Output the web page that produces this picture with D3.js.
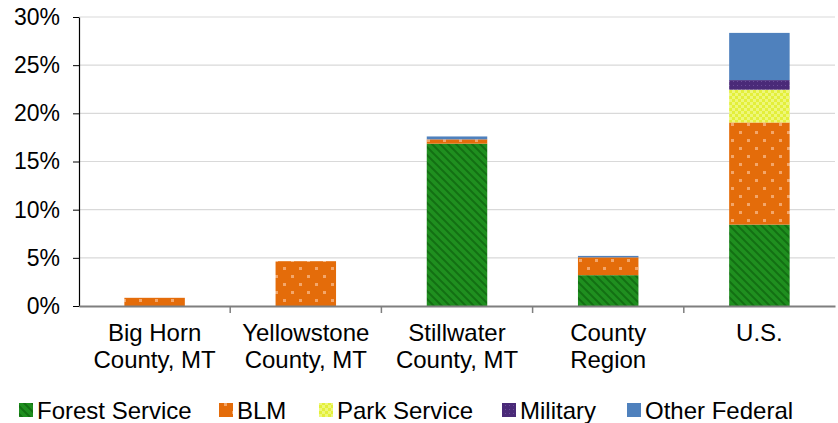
<!DOCTYPE html>
<html><head><meta charset="utf-8">
<script src="https://cdn.jsdelivr.net/npm/d3@7"></script>
<style>body{margin:0;background:#fff;font-family:"Liberation Sans",Arial,sans-serif;}</style>
</head><body><svg id="c" width="838" height="423"></svg>
<script>
const categories = ["Big Horn\nCounty, MT","Yellowstone\nCounty, MT","Stillwater\nCounty, MT","County\nRegion","U.S."];
const seriesNames = ["Forest Service","BLM","Park Service","Military","Other Federal"];
const forestService = [0, 0, 16.85, 3.2, 8.45];
const blm = [0.85, 4.65, 0.45, 1.85, 10.6];
const parkService = [0, 0, 0, 0, 3.4];
const military = [0, 0, 0, 0, 1.0];
const otherFederal = [0, 0, 0.3, 0.15, 4.9];
const yTicks = [0,5,10,15,20,25,30];

const FONT = "Liberation Sans, Arial, sans-serif";
const svg = d3.select("#c");
const defs = svg.append("defs");
let p = defs.append("pattern").attr("id","pForest").attr("patternUnits","userSpaceOnUse").attr("width",8).attr("height",8);
p.append("rect").attr("width",8).attr("height",8).attr("fill","#1f8f1f");
p.append("path").attr("d","M-2,-2 L10,10 M-2,6 L2,10 M6,-2 L10,2").attr("stroke","#137013").attr("stroke-width",2);
p = defs.append("pattern").attr("id","pBLM").attr("patternUnits","userSpaceOnUse").attr("width",16).attr("height",16);
p.append("rect").attr("width",16).attr("height",16).attr("fill","#e46c0a");
p.append("rect").attr("x",3).attr("y",3).attr("width",3).attr("height",3).attr("fill","#f3a66a");
p.append("rect").attr("x",11).attr("y",11).attr("width",3).attr("height",3).attr("fill","#f3a66a");
p = defs.append("pattern").attr("id","pPark").attr("patternUnits","userSpaceOnUse").attr("width",6).attr("height",6);
p.append("rect").attr("width",6).attr("height",6).attr("fill","#e3ef3a");
p.append("rect").attr("x",0).attr("y",0).attr("width",3).attr("height",3).attr("fill","#eef77a");
p.append("rect").attr("x",3).attr("y",3).attr("width",3).attr("height",3).attr("fill","#eef77a");
p = defs.append("pattern").attr("id","pMil").attr("patternUnits","userSpaceOnUse").attr("width",4).attr("height",4);
p.append("rect").attr("width",4).attr("height",4).attr("fill","#4a2a78");
p.append("rect").attr("x",1).attr("y",1).attr("width",1).attr("height",1).attr("fill","#6b4c98");
const fills = ["url(#pForest)","url(#pBLM)","url(#pPark)","url(#pMil)","#4f81bd"];

const x = d3.scaleBand().domain(categories).range([79,835]).paddingInner(0).paddingOuter(0);
const y = d3.scaleLinear().domain([0,30]).range([306,17]);

svg.append("g").selectAll("line").data(yTicks.filter(d=>d>0)).join("line")
  .attr("x1",79).attr("x2",835).attr("y1",d=>y(d)).attr("y2",d=>y(d))
  .attr("stroke","#d9d9d9").attr("stroke-width",1.2);

const rows = categories.map((c,i)=>({cat:c,"Forest Service":forestService[i],"BLM":blm[i],"Park Service":parkService[i],"Military":military[i],"Other Federal":otherFederal[i]}));
const stack = d3.stack().keys(seriesNames)(rows);
const bw = x.bandwidth()*0.4;
svg.append("g").selectAll("g").data(stack).join("g").attr("fill",(d,i)=>fills[i])
  .selectAll("rect").data(d=>d).join("rect")
  .attr("x",d=>x(d.data.cat)+(x.bandwidth()-bw)/2).attr("width",bw)
  .attr("y",d=>y(d[1])).attr("height",d=>Math.max(0,y(d[0])-y(d[1])));

const yAxis = d3.axisLeft(y).tickValues(yTicks).tickFormat(d=>d+"%").tickSize(6).tickSizeOuter(0);
const gy = svg.append("g").attr("transform","translate(79,0)").call(yAxis);
gy.select(".domain").attr("stroke","#000").attr("stroke-width",1.2);
gy.selectAll(".tick line").attr("stroke","#000");
gy.selectAll(".tick text").attr("font-size",23).attr("font-family",FONT).attr("fill","#000").attr("x",-19);

const xAxis = d3.axisBottom(x).tickSize(0).tickSizeOuter(0).tickFormat("");
const gx = svg.append("g").attr("transform","translate(0,306)").call(xAxis);
gx.select(".domain").attr("stroke","#7f7f7f").attr("stroke-width",2);
svg.append("g").selectAll("line").data(categories.slice(1)).join("line")
  .attr("x1",d=>x(d)).attr("x2",d=>x(d)).attr("y1",306).attr("y2",313).attr("stroke","#7f7f7f").attr("stroke-width",1.5);
svg.append("g").selectAll("text").data(categories).join("text")
  .attr("text-anchor","middle").attr("font-size",24).attr("fill","#000")
  .attr("font-family",FONT)
  .each(function(d){
    const t = d3.select(this); const cx = x(d)+x.bandwidth()/2;
    d.split("\n").forEach((line,i)=>t.append("tspan").attr("x",cx).attr("y",341+i*27).text(line));
  });

const legTextX = [37,237,337,520,645];
const lg = svg.append("g").selectAll("g").data(seriesNames).join("g")
  .attr("transform",(d,i)=>`translate(${legTextX[i]},0)`);
lg.append("rect").attr("x",-18).attr("y",403).attr("width",14).attr("height",14).attr("fill",(d,i)=>fills[i]);
lg.append("text").attr("x",0).attr("y",419).attr("font-size",24).attr("fill","#000")
  .attr("font-family",FONT).text(d=>d);
</script></body></html>
